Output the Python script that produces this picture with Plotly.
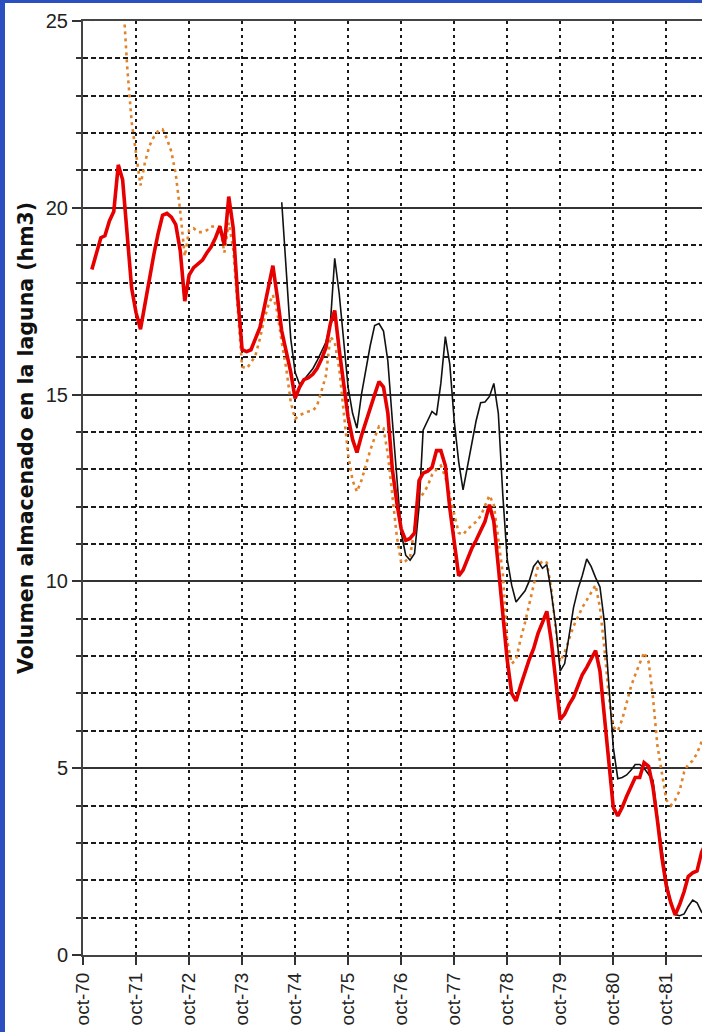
import pandas as pd
import plotly.graph_objects as go

# Monthly storage series (hm3), first value in December 1970
red_start = "1970-12-01"
red_vol = [
    18.35, 18.8, 19.2, 19.25, 19.65, 19.9, 21.15, 20.75, 19.4, 17.85,
    17.2, 16.75, 17.4, 18.15, 18.75, 19.3, 19.8, 19.85, 19.75, 19.55,
    18.85, 17.5, 18.2, 18.4, 18.5, 18.6, 18.8, 18.95, 19.2, 19.5,
    19.0, 20.3, 19.45, 17.6, 16.2, 16.15, 16.2, 16.5, 16.8, 17.3,
    17.9, 18.45, 17.6, 16.7, 16.15, 15.6, 14.9, 15.2, 15.4, 15.45,
    15.55, 15.7, 15.95, 16.25, 16.9, 17.25, 16.2, 15.25, 14.4, 13.8,
    13.45, 13.9, 14.3, 14.65, 15.0, 15.35, 15.2, 14.5, 13.0, 12.1,
    11.4, 11.1, 11.15, 11.3, 12.7, 12.9, 12.95, 13.05, 13.5, 13.5,
    13.1, 11.95, 11.0, 10.15, 10.3, 10.6, 10.9, 11.1, 11.35, 11.6,
    12.05, 11.6, 10.4, 9.1, 7.9, 7.0, 6.8, 7.2, 7.6, 7.9,
    8.2, 8.6, 8.9, 9.2, 8.4, 7.3, 6.3, 6.45, 6.7, 6.9,
    7.2, 7.5, 7.7, 7.9, 8.15, 7.6, 6.3, 5.0, 3.95, 3.72,
    3.95, 4.25, 4.5, 4.75, 4.75, 5.15, 5.05, 4.5, 3.6, 2.6,
    1.85, 1.4, 1.07, 1.35, 1.7, 2.1, 2.2, 2.25, 2.75, 3.0,
]

# Monthly series, first value in July 1974
black_start = "1974-07-01"
black_vol = [
    20.15, 18.3, 16.5, 15.6, 15.27, 15.4, 15.55, 15.7, 15.9, 16.15,
    16.4, 16.9, 18.65, 17.7, 16.4, 15.2, 14.5, 14.1, 15.0, 15.7,
    16.3, 16.85, 16.9, 16.7, 15.9, 14.3, 12.7, 11.3, 10.7, 10.57,
    10.75, 12.0, 14.05, 14.3, 14.55, 14.45, 15.3, 16.55, 15.8, 14.3,
    13.2, 12.45, 13.1, 13.7, 14.3, 14.78, 14.8, 14.95, 15.3, 14.5,
    12.3, 10.6, 9.9, 9.45, 9.6, 9.75, 10.0, 10.4, 10.55, 10.35,
    10.45, 9.7, 8.8, 7.6, 7.8, 8.6, 9.3, 9.8, 10.15, 10.6,
    10.4, 10.1, 9.85, 8.9, 7.2, 5.55, 4.72, 4.75, 4.82, 4.95,
    5.1, 5.1, 5.0, 4.85, 4.68, 3.7, 2.8, 2.0, 1.4, 1.08,
    1.05, 1.1, 1.3, 1.47, 1.4, 1.15, 1.05,
]

# Monthly series, first value in December 1970
orange_start = "1970-12-01"
orange_vol = [
    25.0, 26.3, 27.2, 27.8, 28.0, 27.6, 26.8, 25.8, 23.8, 22.3,
    21.4, 20.6, 21.2, 21.65, 21.9, 22.05, 22.1, 21.85, 21.5, 20.9,
    19.9, 18.7, 19.4, 19.45, 19.35, 19.35, 19.4, 19.5, 19.5, 19.5,
    18.8, 19.6, 18.9, 17.2, 15.75, 15.7, 15.85, 16.05, 16.5, 17.0,
    17.4, 17.67, 17.2, 16.4, 15.7, 14.8, 14.35, 14.45, 14.5, 14.55,
    14.57, 14.7, 15.1, 15.5, 16.55, 16.4, 15.7, 14.5, 13.4, 12.7,
    12.4, 12.7, 13.15, 13.5, 13.85, 14.15, 14.1, 13.4, 12.3, 11.2,
    10.5, 10.55, 10.66, 11.4, 12.2, 12.35, 12.55, 12.85, 13.0, 13.1,
    12.8, 12.3, 11.8, 11.3, 11.25, 11.4, 11.5, 11.6, 11.75, 12.0,
    12.3, 12.05, 11.1, 10.2, 8.4, 7.8, 7.9, 8.45, 8.9, 9.4,
    9.9, 10.4, 10.55, 10.5, 9.8, 8.7, 7.85, 8.1, 8.45, 8.8,
    9.05, 9.3, 9.5, 9.7, 9.9, 9.3, 8.2, 6.9, 6.1, 6.0,
    6.3, 6.75, 7.2, 7.5, 7.8, 8.1, 7.85, 6.9, 5.6, 4.8,
    4.15, 4.0, 4.15, 4.4, 4.9, 5.1, 5.2, 5.4, 5.7, 6.0,
]

tick_dates = [f"{y}-10-01" for y in range(1970, 1982)]
tick_labels = ["oct-70", "oct-71", "oct-72", "oct-73", "oct-74", "oct-75",
               "oct-76", "oct-77", "oct-78", "oct-79", "oct-80", "oct-81"]


def months(start, n):
    return pd.date_range(start, periods=n, freq="MS")


W, H = 702, 1032
ML, MR, MT, MB = 83, 0, 21, 77
PW, PH = W - ML - MR, H - MT - MB

fig = go.Figure()
fig.add_trace(go.Scatter(
    x=months(orange_start, len(orange_vol)), y=orange_vol, mode="lines",
    line=dict(color="#e0832a", width=2.6, dash="3px,4px"), showlegend=False))
fig.add_trace(go.Scatter(
    x=months(black_start, len(black_vol)), y=black_vol, mode="lines",
    line=dict(color="#111111", width=1.6), showlegend=False))
fig.add_trace(go.Scatter(
    x=months(red_start, len(red_vol)), y=red_vol, mode="lines",
    line=dict(color="#e60000", width=3.6), showlegend=False))

axis_font = dict(family="Liberation Sans", size=20, color="#222222")

fig.update_xaxes(
    type="date", range=["1970-10-01", "1982-06-04"],
    tickmode="array", tickvals=tick_dates, ticktext=tick_labels,
    tickangle=-90, tickfont=dict(family="Liberation Sans", size=19, color="#222222"),
    ticks="outside", ticklen=8, tickcolor="#333333", tickwidth=1.5,
    showgrid=True, gridcolor="#1a1a1a", gridwidth=1.6, griddash="3px,4px",
    showline=True, linecolor="#444444", linewidth=2, mirror=True,
    zeroline=False,
)
fig.update_yaxes(
    range=[0, 25], tick0=0, dtick=5, tickfont=axis_font,
    ticks="outside", ticklen=9, tickcolor="#333333", tickwidth=1.5,
    showgrid=True, gridcolor="#333333", gridwidth=1.5,
    minor=dict(dtick=1, showgrid=True, gridcolor="#1a1a1a", gridwidth=1.5,
               griddash="5px,3px", ticks="outside", ticklen=5,
               tickcolor="#333333"),
    showline=True, linecolor="#444444", linewidth=2,
    zeroline=False,
)

fig.add_annotation(
    text="Volumen almacenado en la laguna (hm3)",
    xref="paper", yref="paper",
    x=(26 - ML) / PW, y=(H - MB - 438) / PH,
    xanchor="center", yanchor="middle", textangle=-90, showarrow=False,
    font=dict(family="DejaVu Sans", size=20.5, color="#111111", weight="bold"),
)

# blue frame along the left and top edges of the page
blue = "#2c4fbf"
fig.add_shape(type="rect", xref="paper", yref="paper", layer="below",
              x0=-ML / PW, x1=(5 - ML) / PW, y0=-MB / PH, y1=1 + MT / PH,
              fillcolor=blue, line_width=0)
fig.add_shape(type="rect", xref="paper", yref="paper", layer="below",
              x0=-ML / PW, x1=1, y0=1 + (MT - 3) / PH, y1=1 + MT / PH,
              fillcolor=blue, line_width=0)

fig.update_layout(
    width=W, height=H,
    margin=dict(l=ML, r=MR, t=MT, b=MB, pad=0),
    paper_bgcolor="white", plot_bgcolor="white",
    showlegend=False,
)

fig.write_html("out.html")
